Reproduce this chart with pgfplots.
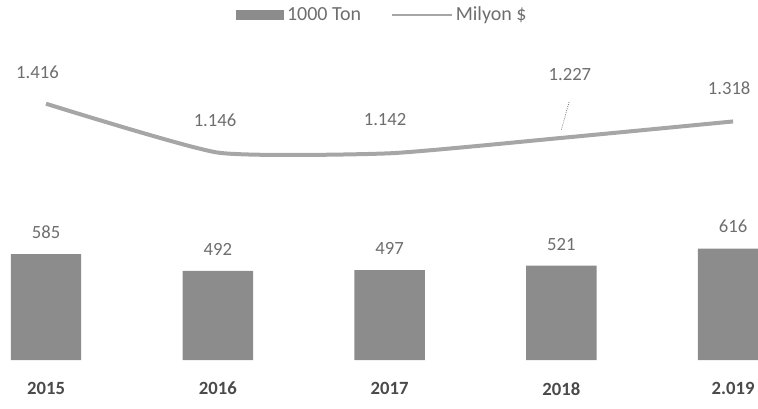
\documentclass[border=0pt]{standalone}
\usepackage{pgfplots}
\pgfplotsset{compat=1.18}
\usepackage{fontspec}
\setmainfont{Carlito}
\definecolor{barcol}{HTML}{8C8C8C}
\definecolor{linecol}{HTML}{A6A6A6}
\definecolor{labcol}{HTML}{6E6E6E}
\definecolor{yearcol}{HTML}{4A4A4A}
\pgfplotstableread{
x ton usd
0 585 1416
1 492 1146
2 497 1142
3 521 1227
4 616 1318
}\data
\begin{document}
\begin{tikzpicture}
\begin{axis}[
  at={(0pt,0pt)}, anchor=south west,
  scale only axis,
  width=568.5pt, height=240pt,
  xmin=-0.268, xmax=4.145,
  ymin=0, ymax=1768,
  axis x line=bottom, axis y line=none,
  axis line style={draw=none},
  xtick=data, xticklabels={2015,2016,2017,2018,2.019},
  major tick style={draw=none},
  xticklabel style={font=\fontsize{14}{16}\selectfont\bfseries, text=yearcol, yshift=-11pt},
  ytick=\empty,
  clip=true,
  /pgf/number format/assume math mode=true,
  legend style={at={(0.505,1.078)}, anchor=center, draw=none, fill=none,
    legend columns=2, font=\fontsize{15}{17}\selectfont, text=labcol,
    /tikz/every even column/.append style={column sep=20pt},
    legend cell align=left},
]
\addplot[ybar, bar width=0.41, fill=barcol, draw=none,
  nodes near coords, every node near coord/.append style={font=\fontsize{14}{16}\selectfont, text=labcol, yshift=8pt},
  area legend,
  legend image code/.code={\fill[barcol] (-6pt,-4pt) rectangle (30pt,4pt);}]
  table[x=x, y=ton] {\data};
\addlegendentry{1000 Ton}
\addplot[linecol, line width=3pt, smooth, tension=0.3, no marks,
  legend image code/.code={\draw[linecol, line width=2pt] (-10pt,0pt) -- (35pt,0pt);}]
  table[x=x, y=usd] {\data};
\addlegendentry{Milyon \$}
\begin{scope}[every node/.style={font=\fontsize{14}{16}\selectfont, text=labcol}]
\node at (axis cs:-0.05,1591) {1.416};
\node at (axis cs:0.984,1326) {1.146};
\node at (axis cs:1.974,1326) {1.142};
\node at (axis cs:3.05,1575) {1.227};
\node at (axis cs:3.977,1503) {1.318};
\end{scope}
\draw[labcol, densely dotted, line width=0.6pt] (axis cs:3.045,1425) -- (axis cs:3.0,1271);
\end{axis}
\pgfresetboundingbox
\useasboundingbox (0pt,-36pt) rectangle (568.5pt,270pt);
\end{tikzpicture}
\end{document}
